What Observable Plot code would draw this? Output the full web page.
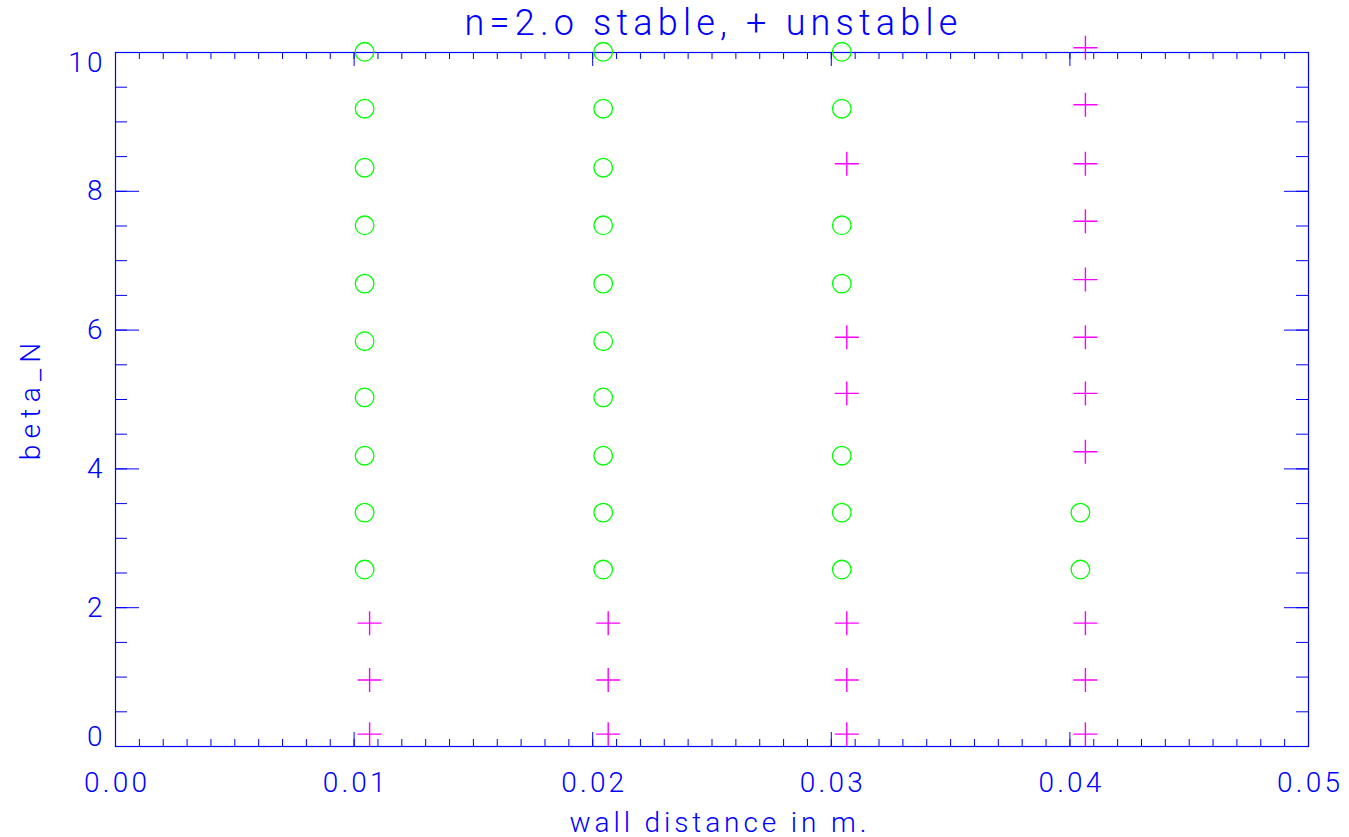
<!DOCTYPE html>
<html>
<head>
<meta charset="utf-8">
<script src="https://cdn.jsdelivr.net/npm/d3@7"></script>
<script src="https://cdn.jsdelivr.net/npm/@observablehq/plot@0.6"></script>
<style>
  html, body { margin: 0; padding: 0; background: #fff; }
  svg { display: block; }
</style>
</head>
<body>
<div id="chart"></div>
<script>
// ---- data ----
const wallDistance = [0.01, 0.02, 0.03, 0.04];
const betaN = [0.12, 0.90, 1.72, 2.55, 3.37, 4.19, 5.03, 5.84, 6.67, 7.51, 8.34, 9.19, 10.01];
// one string per wall distance, one char per betaN: "o" stable, "+" unstable
const stability = [
  "+++oooooooooo",
  "+++oooooooooo",
  "+++ooo++oo+oo",
  "+++oo++++++++"
];
const xTickLabels = [0, 0.01, 0.02, 0.03, 0.04, 0.05];
const yTickLabels = [0, 2, 4, 6, 8, 10];
const xMinorTicks = d3.range(0, 51).map(i => i / 1000);
const yMinorTicks = d3.range(0, 21).map(i => i / 2);
const titleText = "n=2.o stable, + unstable";
const xLabel = "wall distance in m.";
const yLabel = "beta_N";

const points = [];
wallDistance.forEach((w, i) => {
  betaN.forEach((b, j) => points.push({w, b, s: stability[i][j]}));
});
const stable = points.filter(d => d.s === "o");
const unstable = points.filter(d => d.s === "+");

const W = 1349, H = 837;
const mL = 115, mR = 41, mT = 52, mB = 91;
const pw = W - mL - mR, ph = H - mT - mB;
const blue = "#0000ff";
const FONT = "Roboto, 'DejaVu Sans', sans-serif";

const plusSymbol = {
  draw(ctx, size) {
    const r = Math.sqrt(size / Math.PI);
    ctx.moveTo(-r, 0); ctx.lineTo(r, 0);
    ctx.moveTo(0, -r); ctx.lineTo(0, r);
  }
};

const fmt = d3.format(".2f");
const LS_TICK = 3.2, LS_TITLE = 5.2, LS_XL = 3.9, LS_YL = 6.3;

const chart = Plot.plot({
  width: W, height: H,
  marginLeft: mL, marginRight: mR, marginTop: mT, marginBottom: mB,
  style: {fontFamily: FONT, fontWeight: 300, background: "#fff", overflow: "visible"},
  x: {domain: [0, 0.05], axis: null},
  y: {domain: [0, 10], axis: null},
  marks: [
    Plot.frame({stroke: blue, strokeWidth: 1.2}),
    // x minor ticks (bottom & top)
    Plot.tickX(xMinorTicks, {x: d => d, stroke: blue, insetTop: ph - 7}),
    Plot.tickX(xMinorTicks, {x: d => d, stroke: blue, insetBottom: ph - 7}),
    // x major ticks
    Plot.tickX(xTickLabels, {x: d => d, stroke: blue, insetTop: ph - 14}),
    Plot.tickX(xTickLabels, {x: d => d, stroke: blue, insetBottom: ph - 14}),
    // y minor ticks (left & right)
    Plot.tickY(yMinorTicks, {y: d => d, stroke: blue, insetRight: pw - 12}),
    Plot.tickY(yMinorTicks, {y: d => d, stroke: blue, insetLeft: pw - 12}),
    // y major ticks
    Plot.tickY(yTickLabels, {y: d => d, stroke: blue, insetRight: pw - 24}),
    Plot.tickY(yTickLabels, {y: d => d, stroke: blue, insetLeft: pw - 24}),
    // x tick labels
    Plot.text(xTickLabels, {x: d => d, text: d => fmt(d), frameAnchor: "bottom", lineAnchor: "top",
      dy: 26, dx: LS_TICK / 2, fill: blue, fontSize: 28, fontWeight: 300, className: "tk"}),
    // y tick labels
    Plot.text(yTickLabels.filter(d => d > 0 && d < 10), {y: d => d, text: d => String(d), frameAnchor: "left",
      textAnchor: "end", lineAnchor: "middle", dx: -13 + LS_TICK, fill: blue, fontSize: 28, fontWeight: 300, className: "tk"}),
    Plot.text(yTickLabels.filter(d => d === 0), {y: d => d, text: d => String(d), frameAnchor: "left",
      textAnchor: "end", lineAnchor: "middle", dx: -13 + LS_TICK, dy: -9, fill: blue, fontSize: 28, fontWeight: 300, className: "tk"}),
    Plot.text(yTickLabels.filter(d => d === 10), {y: d => d, text: d => String(d), frameAnchor: "left",
      textAnchor: "end", lineAnchor: "middle", dx: -13 + LS_TICK, dy: 11, fill: blue, fontSize: 28, fontWeight: 300, className: "tk"}),
    // points
    Plot.dot(stable, {x: "w", y: "b", r: 9.3, stroke: "#00ff00", fill: "none", strokeWidth: 1.3, dx: 10.5}),
    Plot.dot(unstable, {x: "w", y: "b", r: 12, symbol: plusSymbol, stroke: "#ff00ff", fill: "none",
      strokeWidth: 1.4, dx: 15.5, dy: -4}),
    // titles
    Plot.text([titleText], {text: d => d, frameAnchor: "top", lineAnchor: "bottom", dy: -18, dx: LS_TITLE / 2 - 1,
      fill: blue, fontSize: 36, fontWeight: 300, className: "ttl"}),
    Plot.text([xLabel], {text: d => d, frameAnchor: "bottom", lineAnchor: "bottom", dy: 85, dx: 6 + LS_XL / 2,
      fill: blue, fontSize: 28, fontWeight: 300, className: "xl"}),
    Plot.text([yLabel], {text: d => d, frameAnchor: "left", textAnchor: "middle", lineAnchor: "bottom", rotate: -90,
      dx: -76, dy: 2 - LS_YL / 2, fill: blue, fontSize: 28, fontWeight: 300, className: "yl"})
  ]
});
document.getElementById("chart").appendChild(chart);
const svg = d3.select(chart);
svg.selectAll(".tk text").style("letter-spacing", LS_TICK + "px");
svg.selectAll(".ttl text").style("letter-spacing", LS_TITLE + "px");
svg.selectAll(".xl text").style("letter-spacing", LS_XL + "px");
svg.selectAll(".yl text").style("letter-spacing", LS_YL + "px");
</script>
</body>
</html>
